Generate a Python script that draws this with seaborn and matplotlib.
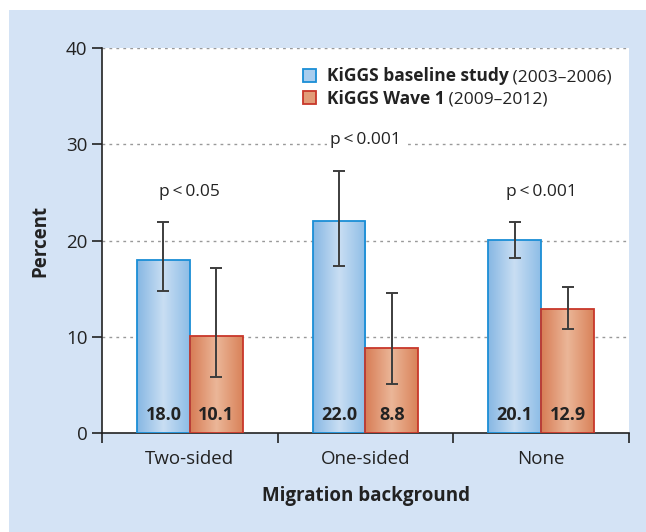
"""
KiGGS migration background chart - recreated with seaborn
"""

import numpy as np
import pandas as pd
import matplotlib.pyplot as plt
import seaborn as sns
from matplotlib.colors import LinearSegmentedColormap
from matplotlib.patches import Rectangle, Patch

# Data
categories = ['Two-sided', 'One-sided', 'None']
baseline = [18.0, 22.0, 20.1]
wave1 = [10.1, 8.8, 12.9]
baseline_lo = [14.8, 17.4, 18.2]
baseline_hi = [21.9, 27.2, 21.9]
wave1_lo = [5.8, 5.1, 10.8]
wave1_hi = [17.1, 14.5, 15.2]
p_labels = ['p\u2009<\u20090.05', 'p\u2009<\u20090.001', 'p\u2009<\u20090.001']
p_heights = [25.0, 30.4, 25.0]
series = ['KiGGS baseline study', 'KiGGS Wave 1']
periods = [' (2003\u20132006)', ' (2009\u20132012)']

df = pd.DataFrame({
    'category': categories * 2,
    'study': [series[0]] * 3 + [series[1]] * 3,
    'percent': baseline + wave1,
})

# Style
sns.set_style("white")
plt.rcParams['font.family'] = ['Open Sans', 'DejaVu Sans']

bg = '#d4e3f5'
edge_cols = ['#1a8ed6', '#c8372a']
cmaps = [
    LinearSegmentedColormap.from_list('b', ['#86b7e3', '#c9def3', '#8dbde6']),
    LinearSegmentedColormap.from_list('o', ['#d77c55', '#ebb698', '#d98259']),
]
mid_cols = ['#a9cdee', '#e29c78']

fig = plt.figure(figsize=(6.46, 5.32), dpi=100)
fig.patch.set_facecolor('white')
fig.patches.append(Rectangle((9 / 646, 0), 1, 1 - 10 / 532, transform=fig.transFigure,
                             facecolor=bg, edgecolor='none', zorder=-10))

ax = fig.add_axes([102 / 646, 99 / 532, 527 / 646, 385 / 532])
ax.set_facecolor('white')

sns.barplot(data=df, x='category', y='percent', hue='study', order=categories,
            hue_order=series, width=0.6, errorbar=None, ax=ax, legend=False,
            palette=mid_cols, zorder=3)

# gradient fill, error bars, value labels
grad = np.linspace(0, 1, 256).reshape(1, -1)
lows = [baseline_lo, wave1_lo]
highs = [baseline_hi, wave1_hi]
vals = [baseline, wave1]
bar_containers = list(ax.containers[:2])
for s, container in enumerate(bar_containers):
    for i, bar in enumerate(container.patches):
        x0, w, h = bar.get_x(), bar.get_width(), bar.get_height()
        bar.set_facecolor('none')
        bar.set_edgecolor(edge_cols[s])
        bar.set_linewidth(1.3)
        bar.set_zorder(4)
        im = ax.imshow(grad, cmap=cmaps[s], extent=[x0, x0 + w, 0, h],
                       aspect='auto', zorder=3)
        im.set_clip_path(bar)
        xc = x0 + w / 2
        v = vals[s][i]
        ax.errorbar(xc, v, yerr=[[v - lows[s][i]], [highs[s][i] - v]], fmt='none',
                    ecolor='#3d3d3d', elinewidth=1.4, capsize=4.5, capthick=1.4, zorder=5)
        ax.text(xc, 1.9, f'{v:.1f}', ha='center', va='center', fontsize=13,
                fontweight='bold', color='#222222', zorder=6)

for i, (lab, yy) in enumerate(zip(p_labels, p_heights)):
    ax.text(i, yy, lab, ha='center', va='center', fontsize=12.5, color='#222222', zorder=6,
            bbox=dict(facecolor='white', edgecolor='none', pad=2))

ax.set_xlim(-0.5, 2.5)
ax.set_ylim(0, 40)
ax.set_yticks([0, 10, 20, 30, 40])
ax.set_xticks([0, 1, 2])
ax.set_xticks([-0.5, 0.5, 1.5, 2.5], minor=True)
ax.tick_params(axis='y', which='major', direction='out', length=7, width=1.2,
               labelsize=13.5, colors='#222222', left=True)
ax.tick_params(axis='x', which='major', length=0, labelsize=13.5, colors='#222222', pad=12)
ax.tick_params(axis='x', which='minor', direction='out', length=7, width=1.2,
               bottom=True, color='#222222')
for yv in [10, 20, 30, 40]:
    ax.axhline(yv, color='#999999', linestyle=(0, (2, 3)), linewidth=1.0, zorder=1)

for side in ['top', 'right']:
    ax.spines[side].set_visible(False)
for side in ['left', 'bottom']:
    ax.spines[side].set_color('#222222')
    ax.spines[side].set_linewidth(1.2)

ax.set_xlabel('Migration background', fontsize=13.5, fontweight='bold', color='#222222',
              labelpad=13)
ax.set_ylabel('Percent', fontsize=13.5, fontweight='bold', color='#222222', labelpad=11)

# legend: bold study name + regular period
handles = [Patch(facecolor=mid_cols[k], edgecolor=edge_cols[k], linewidth=1.3) for k in range(2)]
leg = ax.legend(handles, series, loc='upper left', bbox_to_anchor=(0.352, 0.99), frameon=False,
                prop={'size': 12.5, 'weight': 'bold'}, handlelength=0.75, handleheight=0.75,
                handletextpad=0.6, labelspacing=0.25)
for t in leg.get_texts():
    t.set_color('#222222')

fig.canvas.draw()
inv = fig.transFigure.inverted()
for t, per in zip(leg.get_texts(), periods):
    bb = t.get_window_extent()
    x1, y0 = inv.transform((bb.x1, bb.y0))
    fig.text(x1, y0, per, va='bottom', ha='left', fontsize=12.5, color='#222222')

fig.savefig('out.png', dpi=100)
print("Saved: out.png")
